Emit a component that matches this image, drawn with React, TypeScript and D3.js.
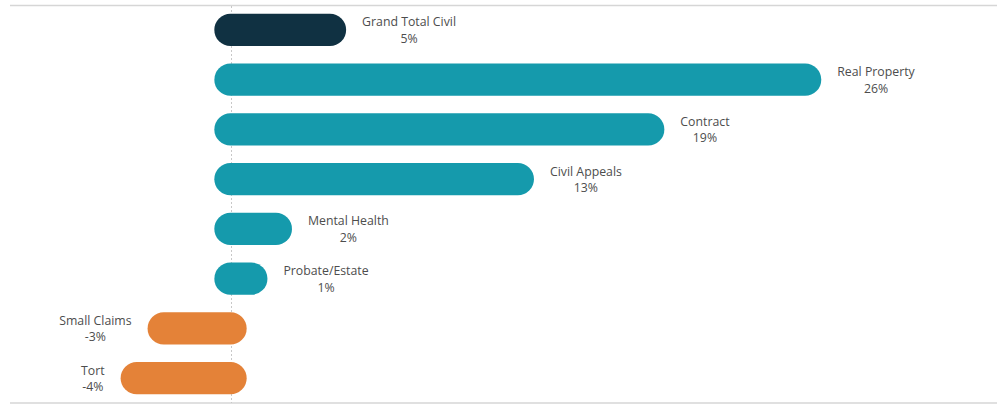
import React from "react";
import * as d3 from "d3";

const categories = [
  "Grand Total Civil",
  "Real Property",
  "Contract",
  "Civil Appeals",
  "Mental Health",
  "Probate/Estate",
  "Small Claims",
  "Tort",
];
const changes = [0.045, 0.26, 0.189, 0.13, 0.0205, 0.0094, -0.0302, -0.0424];
const totalCategory = "Grand Total Civil";

const width = 997;
const height = 404;

const App: React.FC = () => {
  const svgRef = React.useRef<SVGSVGElement | null>(null);

  React.useEffect(() => {
    if (!svgRef.current) return;
    const svg = d3.select(svgRef.current);
    svg.selectAll("*").remove();

    const x = d3.scaleLinear().domain([-0.05, 0.3]).range([120, 893.5]);
    const y = d3
      .scaleBand<string>()
      .domain(categories)
      .range([5, 403])
      .paddingInner(0.35)
      .paddingOuter(0.175);

    const cap = y.bandwidth() / 2;
    // plain hyphen for negatives, like the original
    const pct = d3
      .formatLocale({ decimal: ".", thousands: ",", grouping: [3], currency: ["$", ""], minus: "-" })
      .format(".0%");
    const colour = (c: string, v: number) =>
      c === totalCategory ? "#103142" : v < 0 ? "#e48238" : "#159aac";

    // frame lines
    [5.5, 403].forEach((yy) => {
      svg
        .append("line")
        .attr("x1", 10)
        .attr("x2", width)
        .attr("y1", yy)
        .attr("y2", yy)
        .attr("stroke", "#d6d6d6")
        .attr("stroke-width", 1.5);
    });

    // zero line
    svg
      .append("line")
      .attr("x1", Math.round(x(0)) + 0.5)
      .attr("x2", Math.round(x(0)) + 0.5)
      .attr("y1", 6)
      .attr("y2", 403)
      .attr("stroke", "#c8c8c8")
      .attr("stroke-dasharray", "2,2");

    const data = categories.map((c, i) => ({ c, v: changes[i] }));

    svg
      .append("g")
      .selectAll("rect")
      .data(data)
      .join("rect")
      .attr("x", (d) => Math.min(x(0), x(d.v)) - cap)
      .attr("y", (d) => y(d.c)!)
      .attr("width", (d) => Math.abs(x(d.v) - x(0)) + cap * 2)
      .attr("height", y.bandwidth())
      .attr("rx", cap)
      .attr("fill", (d) => colour(d.c, d.v));

    const labels = svg
      .append("g")
      .attr("font-family", "'Open Sans', sans-serif")
      .attr("font-size", 12.3)
      .attr("fill", "#4d4d4d");

    data.forEach((d) => {
      const cy = y(d.c)! + cap;
      const name = labels
        .append("text")
        .attr("y", cy - 3.5)
        .attr("text-anchor", "middle")
        .text(d.c);
      const val = labels
        .append("text")
        .attr("y", cy + 13)
        .attr("text-anchor", "middle")
        .text(pct(d.v));
      const w = Math.max(
        (name.node() as SVGTextElement).getComputedTextLength(),
        (val.node() as SVGTextElement).getComputedTextLength()
      );
      const cx =
        d.v >= 0 ? x(d.v) + cap + 16 + w / 2 : x(d.v) - cap - 16 - w / 2;
      name.attr("x", cx);
      val.attr("x", cx);
    });
  }, []);

  return (
    <div style={{ position: "absolute", left: 0, top: 0 }}>
      <svg ref={svgRef} width={width} height={height} style={{ display: "block" }}></svg>
    </div>
  );
};

export default App;
